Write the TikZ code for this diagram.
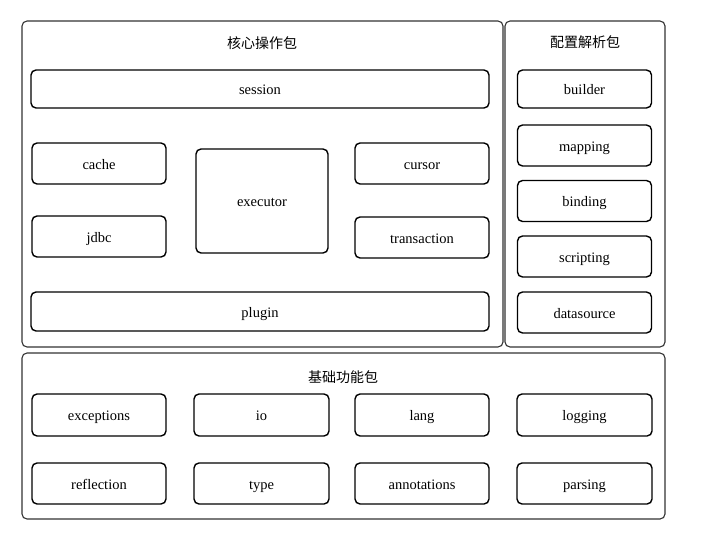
\documentclass[tikz,border=0pt]{standalone}
\usepackage{fontspec}
\setmainfont{Liberation Serif}
\newfontfamily\cjk{Noto Sans CJK SC}
\begin{document}
\begin{tikzpicture}[x=1pt,y=-1pt,
  group/.style={draw=black!80,line width=1.1pt,rounded corners=5pt,inner sep=0pt},
  item/.style={draw=black,line width=1.4pt,rounded corners=5pt,inner sep=0pt,
    minimum width=134pt,minimum height=41pt,text height=12pt,text depth=1pt,
    font=\fontsize{14.5}{16}\selectfont},
  title/.style={font=\cjk\fontsize{14}{16}\selectfont,inner sep=0pt}]
\useasboundingbox (0,0) rectangle (725,543);

% package frames
\node[group,minimum width=481pt,minimum height=326pt] (core) at (262.5,184) {};
\node[group,minimum width=160pt,minimum height=326pt] (config) at (585,184) {};
\node[group,minimum width=643pt,minimum height=166pt] (base) at (343.5,436) {};

\node[title] (coreT) at (262,43) {核心操作包};
\node[title] (configT) at (585,42) {配置解析包};
\node[title] (baseT) at (343,377) {基础功能包};

% core operation package
\node[item,minimum width=458pt,minimum height=38pt] (session) at (260,89) {session};
\node[item] (cache) at (99,163.5) {cache};
\node[item] (jdbc) at (99,236.5) {jdbc};
\node[item,minimum width=132pt,minimum height=104pt] (executor) at (262,201) {executor};
\node[item] (cursor) at (422,163.5) {cursor};
\node[item] (transaction) at (422,237.5) {transaction};
\node[item,minimum width=458pt,minimum height=39pt] (plugin) at (260,311.5) {plugin};

% configuration parsing package
\begin{scope}[every node/.append style={minimum width=133pt,minimum height=39pt}]
\node[item,minimum height=38pt] (builder) at (584.5,89) {builder};
\node[item] (mapping) at (584.5,145.5) {mapping};
\node[item] (binding) at (584.5,201) {binding};
\node[item] (scripting) at (584.5,256.5) {scripting};
\node[item] (datasource) at (584.5,312.5) {datasource};
\end{scope}

% base support package
\node[item,minimum height=42pt] (exceptions) at (99,415) {exceptions};
\node[item,minimum height=42pt,minimum width=135pt] (io) at (261.5,415) {io};
\node[item,minimum height=42pt] (lang) at (422,415) {lang};
\node[item,minimum height=42pt,minimum width=135pt] (logging) at (584.5,415) {logging};
\node[item] (reflection) at (99,483.5) {reflection};
\node[item,minimum width=135pt] (type) at (261.5,483.5) {type};
\node[item] (annotations) at (422,483.5) {annotations};
\node[item,minimum width=135pt] (parsing) at (584.5,483.5) {parsing};
\end{tikzpicture}
\end{document}
